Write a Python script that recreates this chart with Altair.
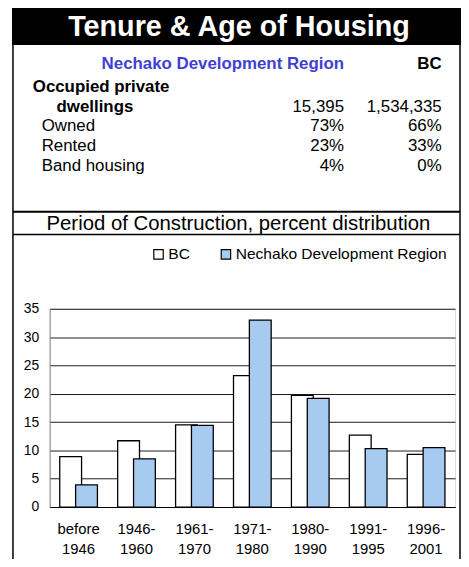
import altair as alt
import pandas as pd

# ---- data ----
periods = ["before 1946", "1946-1960", "1961-1970", "1971-1980",
           "1980-1990", "1991-1995", "1996-2001"]
bc_pct = [8.9, 11.7, 14.5, 23.2, 19.7, 12.7, 9.3]
nechako_pct = [3.9, 8.5, 14.4, 33.0, 19.2, 10.3, 10.5]
series = ["BC", "Nechako Development Region"]
y_ticks = [0, 5, 10, 15, 20, 25, 30, 35]

table_rows = ["Occupied private dwellings", "Owned", "Rented", "Band housing"]
nechako_col = ["15,395", "73%", "23%", "4%"]
bc_col = ["1,534,335", "66%", "33%", "0%"]

main_title = "Tenure & Age of Housing"
chart_title = "Period of Construction, percent distribution"

FONT = "Liberation Sans"

# ---- tables ----
bar_rows = []
for p, v in zip(periods, bc_pct):
    bar_rows.append({"period": p, "series": series[0], "pct": v})
for p, v in zip(periods, nechako_pct):
    bar_rows.append({"period": p, "series": series[1], "pct": v})
bar_df = pd.DataFrame(bar_rows)

tbl_df = pd.DataFrame({"row": table_rows, "nechako": nechako_col, "bc": bc_col})
one = pd.DataFrame({"k": [1]})

label_expr = "split(replace(replace(datum.label, ' ', '|'), '-', '-|'), '|')"

bars = alt.Chart(bar_df).mark_bar(width=22, stroke="black", strokeWidth=1.3).encode(
    x=alt.X("period:N", sort=periods,
            scale=alt.Scale(domain=periods, paddingInner=0, paddingOuter=0),
            axis=alt.Axis(title=None, labelAngle=0, labelExpr=label_expr,
                          labelFont=FONT, labelFontSize=15, labelColor="black",
                          labelPadding=15, labelLineHeight=20, ticks=False,
                          domainColor="black", domainWidth=1.2)),
    xOffset=alt.XOffset("series:N", sort=series,
                        scale=alt.Scale(domain=series, paddingInner=0, paddingOuter=0.825)),
    y=alt.Y("pct:Q", stack=None,
            scale=alt.Scale(domain=[0, 35], nice=False),
            axis=alt.Axis(title=None, values=y_ticks, grid=True, gridColor="black",
                          gridWidth=0.9, ticks=False, domainColor="#888",
                          labelFont=FONT, labelFontSize=14, labelColor="black",
                          labelPadding=11)),
    color=alt.Color("series:N", sort=series,
                    scale=alt.Scale(domain=series, range=["white", "#a6caf0"]),
                    legend=alt.Legend(title=None, orient="none", legendX=102, legendY=-63,
                                      direction="horizontal", symbolType="square",
                                      symbolSize=90, symbolStrokeColor="black",
                                      symbolStrokeWidth=1.2, labelFont=FONT,
                                      labelFontSize=15.7, labelColor="black",
                                      labelLimit=400,
                                      labelOffset=2, columnPadding=28)),
)

# ---- frame ----
outline = alt.Chart(one).mark_rect(filled=False, stroke="black", strokeWidth=1.5).encode(
    x=alt.value(-37), x2=alt.value(414), y=alt.value(-305), y2=alt.value(280))
band = alt.Chart(one).mark_rect(color="black").encode(
    x=alt.value(-38), x2=alt.value(415.5), y=alt.value(-305), y2=alt.value(-266))
rule1 = alt.Chart(one).mark_rule(color="black", strokeWidth=2).encode(
    x=alt.value(-37), x2=alt.value(414), y=alt.value(-98))
rule2 = alt.Chart(one).mark_rule(color="black", strokeWidth=1.5).encode(
    x=alt.value(-37), x2=alt.value(414), y=alt.value(-75))

title_txt = alt.Chart(one).mark_text(text=main_title, font=FONT, fontSize=29,
                                     fontWeight="bold", color="white", align="center",
                                     baseline="alphabetic").encode(
    x=alt.value(191), y=alt.value(-275.5))
sub_txt = alt.Chart(one).mark_text(text=chart_title, font=FONT, fontSize=20.5,
                                   color="black", align="center",
                                   baseline="alphabetic").encode(
    x=alt.value(190.5), y=alt.value(-79))

hdr_n = alt.Chart(one).mark_text(text=series[1], font=FONT, fontSize=17, fontWeight="bold",
                                 color="#3f3fd6", align="right", baseline="alphabetic").encode(
    x=alt.value(297), y=alt.value(-242.3))
hdr_b = alt.Chart(one).mark_text(text=series[0], font=FONT, fontSize=17, fontWeight="bold",
                                 color="black", align="right", baseline="alphabetic").encode(
    x=alt.value(395.5), y=alt.value(-242.3))

row_scale = alt.Scale(domain=table_rows, type="point", range=[-199, -139], padding=0)
row_y = alt.Y("row:N", sort=table_rows, scale=row_scale, axis=None)

first_line, second_line = table_rows[0].rsplit(" ", 1)
occ1 = alt.Chart(tbl_df.iloc[:1]).mark_text(text=first_line, font=FONT, fontSize=17,
                                            fontWeight="bold", color="black", align="left",
                                            baseline="alphabetic", dy=-19.3).encode(
    x=alt.value(-17), y=row_y)
occ2 = alt.Chart(tbl_df.iloc[:1]).mark_text(text=second_line, font=FONT, fontSize=17,
                                            fontWeight="bold", color="black", align="left",
                                            baseline="alphabetic").encode(
    x=alt.value(7), y=row_y)
row_lbl = alt.Chart(tbl_df.iloc[1:]).mark_text(font=FONT, fontSize=17, color="black",
                                               align="left", baseline="alphabetic").encode(
    x=alt.value(-8), y=row_y, text="row:N")
col_n = alt.Chart(tbl_df).mark_text(font=FONT, fontSize=17, color="black",
                                    align="right", baseline="alphabetic").encode(
    x=alt.value(297), y=row_y, text="nechako:N")
col_b = alt.Chart(tbl_df).mark_text(font=FONT, fontSize=17, color="black",
                                    align="right", baseline="alphabetic").encode(
    x=alt.value(395.5), y=row_y, text="bc:N")

chart = alt.layer(
    outline, band, rule1, rule2, title_txt, sub_txt, hdr_n, hdr_b,
    occ1, occ2, row_lbl, col_n, col_b, bars
).resolve_scale(y="independent").properties(
    width=409, height=200,
    padding={"left": 42, "top": 301, "right": 6, "bottom": 50},
    autosize="none",
    background="white",
).configure_view(stroke=None).configure(font=FONT)

chart.save("out.html", embed_options={"renderer": "svg", "actions": False})
